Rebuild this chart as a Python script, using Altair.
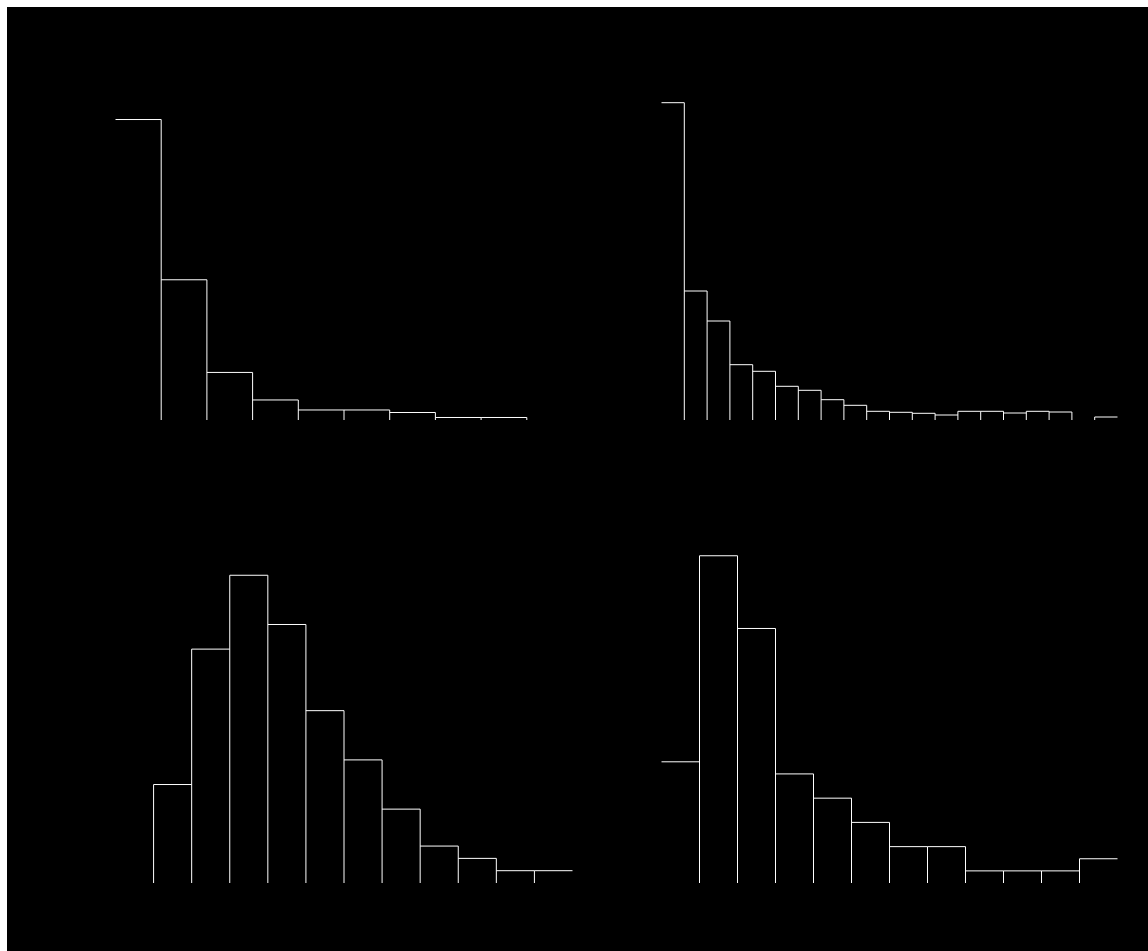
import altair as alt
import pandas as pd

# Histogram heights (no axes are visible in the reference)
p1_counts = [120, 56, 19, 8, 4, 4, 3, 1, 1, 0]
p2_heights = [317.3, 129, 99, 55.3, 48.7, 33.7, 29.7, 20.3, 14.7, 8.7,
              7.7, 6.7, 5, 8.7, 8.7, 7, 8.7, 8, 0, 3]
p3_counts = [0, 8, 19, 25, 21, 14, 10, 6, 3, 2, 1, 1]
p4_counts = [10, 27, 21, 9, 7, 5, 3, 3, 1, 1, 1, 2]

LINE = "white"


def panel(values, unit_px, view_w, view_h, left_px, right_px, base_px):
    n = len(values)
    bw = (right_px - left_px) / n
    xdom = [-left_px / bw, (view_w - left_px) / bw]
    ydom = [-(view_h - base_px) / unit_px, base_px / unit_px]

    tops = pd.DataFrame(
        [{"a": i, "b": i + 1, "h": v} for i, v in enumerate(values) if v > 0]
    )
    verts = pd.DataFrame(
        [
            {"a": k, "lo": 0, "h": max(values[k - 1], values[k])}
            for k in range(1, n)
            if max(values[k - 1], values[k]) > 0
        ]
    )
    xs = alt.Scale(domain=xdom, nice=False, zero=False)
    ys = alt.Scale(domain=ydom, nice=False, zero=False)

    top_layer = alt.Chart(tops).mark_rule(color=LINE, strokeWidth=1).encode(
        x=alt.X("a:Q", scale=xs, axis=None),
        x2="b:Q",
        y=alt.Y("h:Q", scale=ys, axis=None),
    )
    vert_layer = alt.Chart(verts).mark_rule(color=LINE, strokeWidth=1).encode(
        x=alt.X("a:Q", scale=xs, axis=None),
        y=alt.Y("lo:Q", scale=ys, axis=None),
        y2="h:Q",
    )
    return alt.layer(top_layer, vert_layer).properties(width=view_w, height=view_h)


LW, RW, H = 570, 571, 472

c1 = panel(p1_counts, 2.504, LW, H, 108.5, 565.5, 413)
c2 = panel(p2_heights, 1.0, RW, H, 84.5, 540.5, 413)
c3 = panel(p3_counts, 12.31, LW, H, 108.5, 565.5, 404)
c4 = panel(p4_counts, 12.12, RW, H, 84.5, 540.5, 404)

chart = alt.vconcat(
    alt.hconcat(c1, c2, spacing=0),
    alt.hconcat(c3, c4, spacing=0),
    spacing=0,
).properties(
    padding={"left": 7, "top": 7, "right": 0, "bottom": 0},
    background="white",
).configure_view(
    fill="black", stroke="transparent", strokeWidth=0
).configure_concat(spacing=0)

chart.save("out.html", embed_options={"renderer": "svg", "actions": False})
